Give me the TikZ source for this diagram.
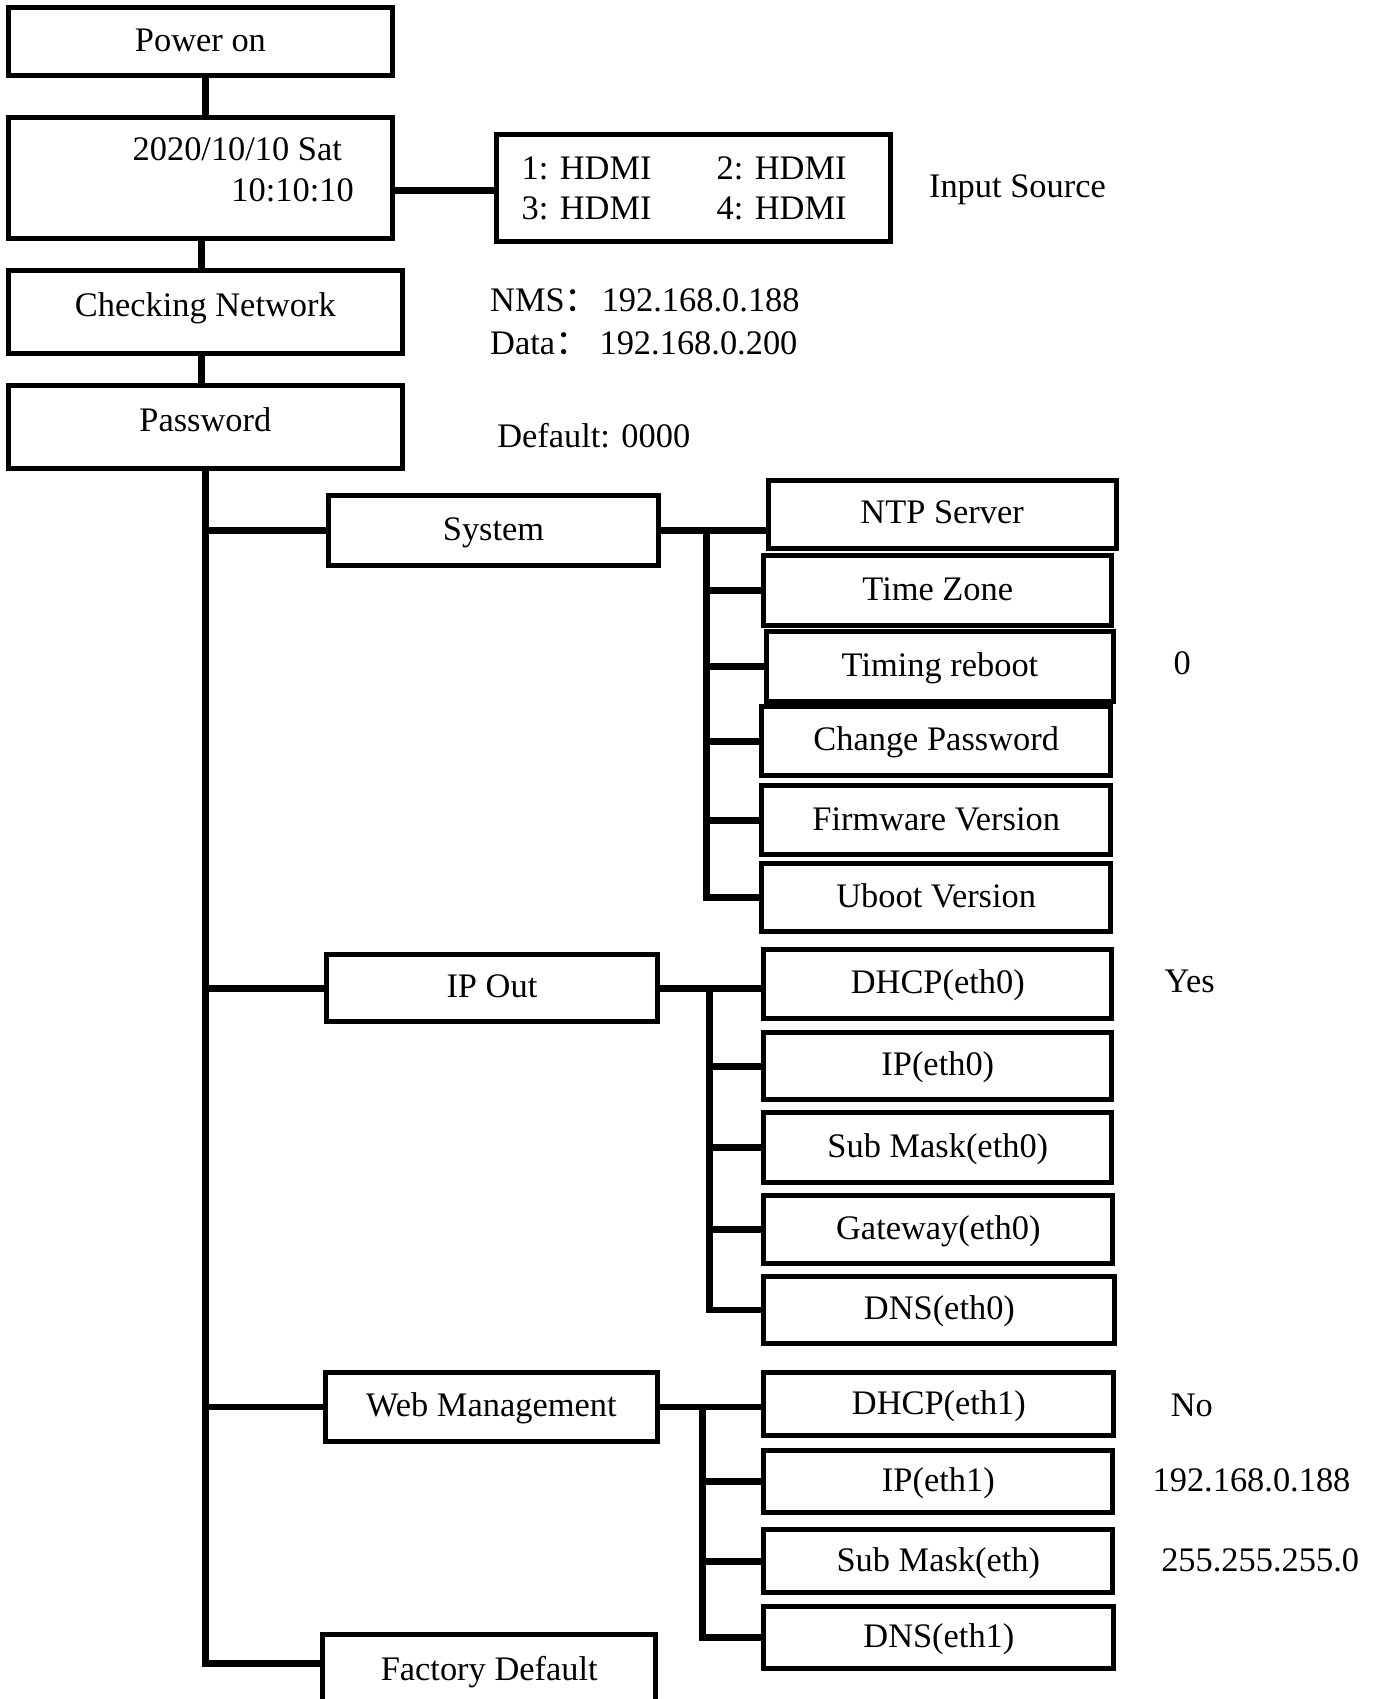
\documentclass[tikz,border=0pt]{standalone}
\usepackage{fontspec}
\setmainfont{Liberation Serif}
\newfontfamily\cjk{Noto Sans CJK SC}
\def\u{0.54169pt}
\tikzset{
  every node/.style={font=\fontsize{17.2pt}{20pt}\selectfont, inner sep=0pt},
  box/.style args={#1x#2}{draw, line width=2.5pt, minimum width={#1*\u}, minimum height={#2*\u},
    text height=13.75pt, text depth=4pt},
  highbox/.style={text height=7pt, text depth=2.5pt},
  link/.style={line width=3.4pt},
  plain/.style={}
}
\begin{document}
\begin{tikzpicture}[x=0.54169pt,y=-0.54169pt]
\useasboundingbox (0,0) rectangle (1271,1568);
\clip (0,0) rectangle (1271,1568);
% helper x positions
\coordinate (tx) at (190,0);
\coordinate (cx) at (186,0);
\coordinate (s1) at (652,0);
\coordinate (s2) at (655,0);
\coordinate (s3) at (648,0);
\coordinate (tb) at (190,1535);
% top column
\node[box=354x63] (po) at (185,38.5) {Power on};
\node[box=354x112] (dt) at (185,164) {};
\node[plain] (dt1) at (219,138) {2020/10/10 Sat};
\node[plain] (dt2) at (270,176) {10:10:10};
\node[box=363x76, highbox] (cn) at (189.5,288) {Checking Network};
\node[box=363x76, highbox] (pw) at (189.5,394) {Password};
% input source
\node[box=364x99] (in) at (640,173.5) {};
\node[plain, anchor=west] (i1) at (481,155) {1: HDMI};
\node[plain, anchor=west] (i2) at (661,155) {2: HDMI};
\node[plain, anchor=west] (i3) at (481,192) {3: HDMI};
\node[plain, anchor=west] (i4) at (661,192) {4: HDMI};
\node[plain] (isrc) at (939,175) {Input Source};
\node[plain, anchor=west] (nms) at (452,277) {\makebox[55.8pt][l]{NMS{\cjk ：}}192.168.0.188};
\node[plain, anchor=west] (dat) at (452,317) {\makebox[54.7pt][l]{Data{\cjk ：}}192.168.0.200};
\node[plain] (def) at (548,402) {Default: 0000};
% level 1
\node[box=305x65] (sys) at (455.5,489.5) {System};
\node[box=306x62] (ipo) at (454,912) {IP Out};
\node[box=307x63] (web) at (453.5,1298.5) {Web Management};
\node[box=307x67, anchor=north] (fd) at (451.5,1506) {Factory Default};
% system children
\node[box=321x63] (ntp) at (869.5,474.5) {NTP Server};
\node[box=321x64] (tz) at (865.5,545) {Time Zone};
\node[box=321x64] (tr) at (867.5,615) {Timing reboot};
\node[box=322x64] (cp) at (864,684) {Change Password};
\node[box=322x64] (fv) at (864,757) {Firmware Version};
\node[box=322x63] (uv) at (864,828.5) {Uboot Version};
\node[plain] (v0) at (1091,612) {0};
% ip out children
\node[box=321x64] (dh0) at (865.5,908) {DHCP(eth0)};
\node[box=321x62] (ip0) at (865.5,984) {IP(eth0)};
\node[box=321x64] (sm0) at (865.5,1059) {Sub Mask(eth0)};
\node[box=322x63] (gw0) at (866,1134.5) {Gateway(eth0)};
\node[box=324x62] (dn0) at (867,1209) {DNS(eth0)};
\node[plain] (yes) at (1098,906) {Yes};
% web children
\node[box=323x58] (dh1) at (866.5,1296) {DHCP(eth1)};
\node[box=322x57] (ip1) at (866,1367.5) {IP(eth1)};
\node[box=322x58] (sm1) at (866,1441) {Sub Mask(eth)};
\node[box=323x57] (dn1) at (866.5,1511.5) {DNS(eth1)};
\node[plain] (no) at (1100,1297) {No};
\node[plain] (vip) at (1155,1366) {192.168.0.188};
\node[plain] (vmask) at (1163,1440) {255.255.255.0};
% connectors top
\draw[link] (po.south -| tx) -- (dt.north -| tx);
\draw[link] (dt.south -| cx) -- (cn.north -| cx);
\draw[link] (cn.south -| cx) -- (pw.north -| cx);
\draw[link] (dt.east |- dt2) -- (in.west |- dt2);
% trunk
\draw[link] (pw.south -| tx) -- (tb) -- (tb -| fd.west);
\draw[link] (tx |- sys.west) -- (sys.west);
\draw[link] (tx |- ipo.west) -- (ipo.west);
\draw[link] (tx |- web.west) -- (web.west);
% system subtree
\draw[link] (sys.east) -- (sys.east -| ntp.west);
\draw[link] (s1 |- sys.east) -- (s1 |- uv.west) -- (uv.west);
\foreach \n in {tz,tr,cp,fv} \draw[link] (s1 |- \n.west) -- (\n.west);
% ip out subtree
\draw[link] (ipo.east) -- (ipo.east -| dh0.west);
\draw[link] (s2 |- ipo.east) -- (s2 |- dn0.west) -- (dn0.west);
\foreach \n in {ip0,sm0,gw0} \draw[link] (s2 |- \n.west) -- (\n.west);
% web subtree
\draw[link] (web.east) -- (web.east -| dh1.west);
\draw[link] (s3 |- web.east) -- (s3 |- dn1.west) -- (dn1.west);
\foreach \n in {ip1,sm1} \draw[link] (s3 |- \n.west) -- (\n.west);
\end{tikzpicture}
\end{document}
